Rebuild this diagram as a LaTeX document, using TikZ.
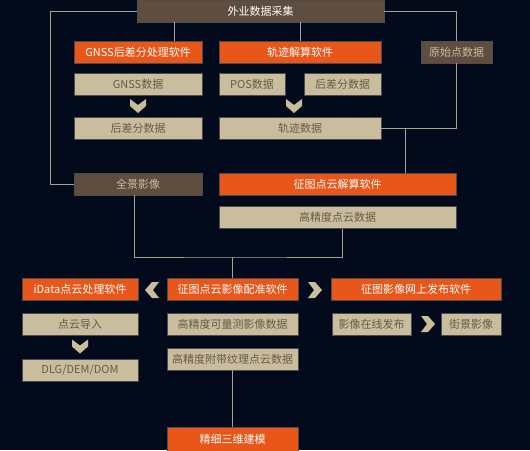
\documentclass[tikz,border=0pt]{standalone}
\usepackage{fontspec}
\newfontfamily\cjk{Noto Sans CJK SC}
\usetikzlibrary{calc}
\definecolor{bgnavy}{HTML}{020A1C}
\definecolor{orangebox}{HTML}{E8561A}
\definecolor{tanbox}{HTML}{C9BD9D}
\definecolor{brownbox}{HTML}{5F4D3F}
\definecolor{tantext}{HTML}{6A5A48}
\definecolor{linkgray}{HTML}{A8A290}

\tikzset{
  box/.style={rectangle, inner sep=0pt, minimum height=22pt, font=\cjk\fontsize{11}{12}\selectfont, draw=black!70, line width=0.6pt},
  softbox/.style={box, fill=orangebox, text=white},
  databox/.style={box, fill=tanbox, text=tantext},
  srcbox/.style={box, fill=brownbox, text=tanbox},
  link/.style={draw=linkgray, line width=0.9pt},
  chev/.pic={\fill[tanbox] (-8,-7) -- (0,-1) -- (8,-7) -- (8,0) -- (0,7) -- (-8,0) -- cycle;}
}

\begin{document}
\begin{tikzpicture}[x=1pt, y={(0pt,-1pt)}]
  % ========================================================
  % 0. BACKGROUND / FRAME
  % ========================================================
  \fill[bgnavy] (0,0) rectangle (530,450);
  \useasboundingbox (0,0) rectangle (530,450);

  % ========================================================
  % 1. FIELD ACQUISITION (top block)
  % ========================================================
  \node[srcbox, text=white, minimum width=247pt] (field) at (260.5,11) {外业数据采集};

  \node[softbox, minimum width=128pt] (gnsssw) at (138,52) {GNSS后差分处理软件};
  \node[softbox, minimum width=162pt] (trajsw) at (300,52) {轨迹解算软件};
  \node[srcbox, minimum width=71pt] (rawpts) at (456.5,52) {原始点数据};

  \node[databox, minimum width=128pt] (gnssdata) at (138,84) {GNSS数据};
  \node[databox, minimum width=66pt] (posdata) at (252,84) {POS数据};
  \node[databox, minimum width=77pt] (diffright) at (342.5,84) {后差分数据};

  \node[databox, minimum width=128pt] (diffleft) at (138,128) {后差分数据};
  \node[databox, minimum width=162pt] (trajdata) at (300,128) {轨迹数据};

  % ========================================================
  % 2. PANORAMA AND POINT CLOUD SOLVING
  % ========================================================
  \node[srcbox, minimum width=128pt] (pano) at (138,184) {全景影像};
  \node[softbox, minimum width=237pt] (cloudsw) at (337.5,184) {征图点云解算软件};
  \node[databox, minimum width=237pt] (clouddata) at (337.5,217.5) {高精度点云数据};

  % ========================================================
  % 3. REGISTRATION AND DOWNSTREAM SOFTWARE
  % ========================================================
  \node[softbox, minimum width=116pt] (idata) at (80,289.5) {iData点云处理软件};
  \node[softbox, minimum width=131pt] (regsw) at (232.5,289.5) {征图点云影像配准软件};
  \node[softbox, minimum width=170pt] (websw) at (416,289.5) {征图影像网上发布软件};

  \node[databox, minimum width=116pt] (import) at (80,324) {点云导入};
  \node[databox, minimum width=131pt] (measimg) at (232.5,324) {高精度可量测影像数据};
  \node[databox, minimum width=79pt] (online) at (371.5,324) {影像在线发布};
  \node[databox, minimum width=60pt] (street) at (471,324) {街景影像};

  \node[databox, minimum width=116pt] (dlg) at (80,370) {DLG/DEM/DOM};
  \node[databox, minimum width=131pt] (texcloud) at (232.5,359) {高精度附带纹理点云数据};

  \node[softbox, minimum width=131pt, minimum height=24pt] (model) at (232.5,439) {精细三维建模};

  % ========================================================
  % 4. CONNECTORS
  % ========================================================
  \draw[link] ([xshift=-28pt]gnsssw.north east) -- ([xshift=-28pt]gnsssw.north east |- field.south);
  \draw[link] (trajsw.north) -- (trajsw.north |- field.south);
  \draw[link] (field.west) -- ++(-86,0) |- (pano.west);
  \draw[link] (field.east) -| (rawpts.north);
  \draw[link] (rawpts.south) |- (trajdata.east);
  \coordinate (tj) at (405,128);
  \draw[link] (tj) -- (tj |- cloudsw.north);

  \coordinate (bus) at (232.5,257);
  \draw[link] ([xshift=-4pt]pano.south) |- (bus) -| ([xshift=5pt]clouddata.south);
  \draw[link] (bus) -- (regsw.north);
  \draw[link] (texcloud.south) -- (model.north);

  % ========================================================
  % 5. CHEVRONS
  % ========================================================
  \pic at (138,106) {chev};
  \pic at (294,106) {chev};
  \pic[rotate=-90] at (152,290) {chev};
  \pic[rotate=90] at (315,290) {chev};
  \pic[rotate=90] at (428,324) {chev};
  \pic at (80,346.5) {chev};

\end{tikzpicture}
\end{document}
